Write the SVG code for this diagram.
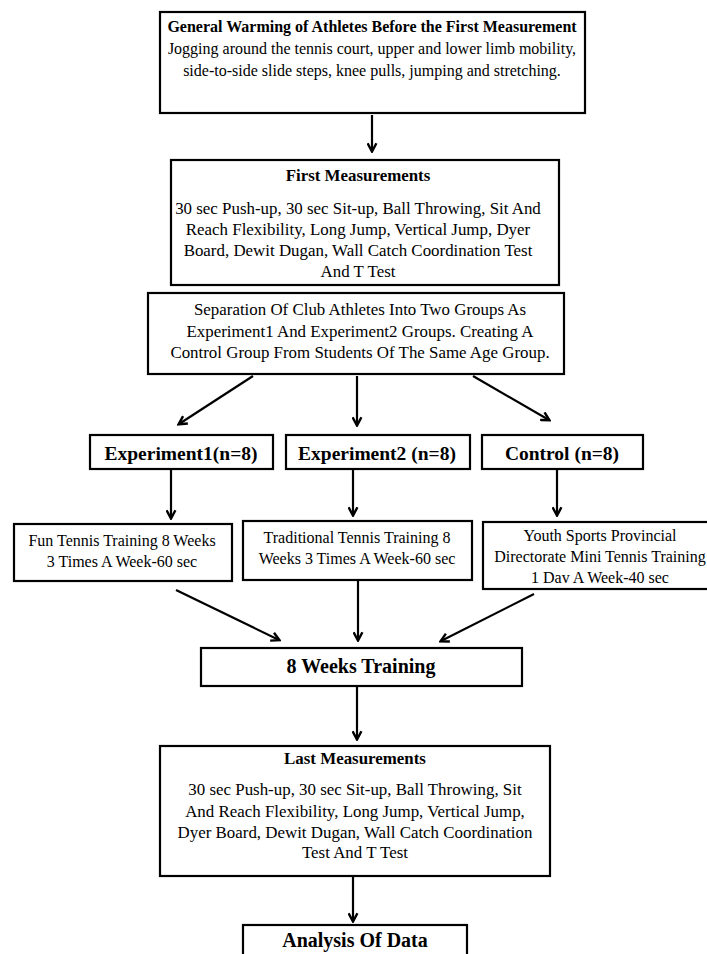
<svg xmlns="http://www.w3.org/2000/svg" width="707" height="954" viewBox="0 0 707 954">
<defs>
<style>
.box{fill:#fff;stroke:#000;stroke-width:2.2}
.t{font-family:"Liberation Serif","Times New Roman",serif;font-size:16.9px;fill:#000;text-anchor:middle}
.s{font-size:16px}
.b{font-weight:bold}
.g{font-family:"Liberation Serif","Times New Roman",serif;font-size:19.5px;font-weight:bold;fill:#000;text-anchor:middle}
.c{stroke:#000;stroke-width:2.2;fill:none;marker-end:url(#ah)}
</style>
<marker id="ah" viewBox="0 0 10 10" refX="8" refY="5" markerWidth="5" markerHeight="5" orient="auto" markerUnits="strokeWidth">
<path d="M1,1 L8.5,5 L1,9" fill="none" stroke="#000" stroke-width="2.2"/>
</marker>
</defs>
<rect width="707" height="954" fill="#fff"/>
<g id="n1">
<rect class="box" x="160" y="12" width="425" height="101"/>
<text class="t b s" x="372" y="32">General Warming of Athletes Before the First Measurement</text>
<text class="t s" x="372" y="54">Jogging around the tennis court, upper and lower limb mobility,</text>
<text class="t s" x="372" y="76">side-to-side slide steps, knee pulls, jumping and stretching.</text>
</g>
<g id="n2">
<rect class="box" x="171" y="160" width="388" height="125"/>
<text class="t b" x="358" y="181">First Measurements</text>
<text class="t" x="358" y="214">30 sec Push-up, 30 sec Sit-up, Ball Throwing, Sit And</text>
<text class="t" x="358" y="235">Reach Flexibility, Long Jump, Vertical Jump, Dyer</text>
<text class="t" x="358" y="256">Board, Dewit Dugan, Wall Catch Coordination Test</text>
<text class="t" x="358" y="277">And T Test</text>
</g>
<g id="n3">
<rect class="box" x="148" y="293" width="416" height="81"/>
<text class="t" x="360" y="315">Separation Of Club Athletes Into Two Groups As</text>
<text class="t" x="360" y="337">Experiment1  And Experiment2  Groups. Creating A</text>
<text class="t" x="360" y="358">Control Group From Students Of The Same Age Group.</text>
</g>
<g id="n4">
<rect class="box" x="90" y="435" width="183" height="34"/>
<text class="g" x="181" y="460">Experiment1(n=8)</text>
</g>
<g id="n5">
<rect class="box" x="286" y="435" width="184" height="34"/>
<text class="g" x="377" y="460">Experiment2 (n=8)</text>
</g>
<g id="n6">
<rect class="box" x="482" y="435" width="161" height="34"/>
<text class="g" x="562" y="460">Control (n=8)</text>
</g>
<g id="n7">
<rect class="box" x="14" y="524" width="218" height="57"/>
<text class="t s" x="122" y="546">Fun Tennis Training 8 Weeks</text>
<text class="t s" x="122" y="567">3 Times A Week-60 sec</text>
</g>
<g id="n8">
<rect class="box" x="243" y="521" width="229" height="59"/>
<text class="t s" x="357" y="543">Traditional Tennis Training 8</text>
<text class="t s" x="357" y="564">Weeks 3 Times A Week-60 sec</text>
</g>
<g id="n9">
<rect class="box" x="483" y="522" width="226" height="67"/>
<text class="t s" x="600" y="541">Youth Sports Provincial</text>
<text class="t s" x="600" y="562">Directorate Mini Tennis Training</text>
<text class="t s" x="600" y="583">1 Dav A Week-40 sec</text>
</g>
<g id="n10">
<rect class="box" x="201" y="648" width="321" height="38"/>
<text class="g" x="361" y="673" style="font-size:20px">8 Weeks Training</text>
</g>
<g id="n11">
<rect class="box" x="160" y="746" width="390" height="130"/>
<text class="t b" x="355" y="764">Last Measurements</text>
<text class="t" x="355" y="795">30 sec Push-up, 30 sec Sit-up, Ball Throwing, Sit</text>
<text class="t" x="355" y="817">And Reach Flexibility, Long Jump, Vertical Jump,</text>
<text class="t" x="355" y="838">Dyer Board, Dewit Dugan, Wall Catch Coordination</text>
<text class="t" x="355" y="858">Test And T Test</text>
</g>
<g id="n12">
<rect class="box" x="243" y="925" width="224" height="40"/>
<text class="g" x="355" y="947" style="font-size:20px">Analysis Of Data</text>
</g>
<g id="connectors">
<line class="c" x1="372" y1="115" x2="372" y2="151"/>
<line class="c" x1="253" y1="376" x2="179" y2="424"/>
<line class="c" x1="357" y1="376" x2="357" y2="425"/>
<line class="c" x1="473" y1="376" x2="549" y2="420"/>
<line class="c" x1="171" y1="470" x2="171" y2="518"/>
<line class="c" x1="353" y1="470" x2="353" y2="515"/>
<line class="c" x1="557" y1="470" x2="557" y2="515"/>
<line class="c" x1="176" y1="590" x2="279" y2="640"/>
<line class="c" x1="358" y1="581" x2="358" y2="640"/>
<line class="c" x1="534" y1="594" x2="441" y2="641"/>
<line class="c" x1="357" y1="687" x2="357" y2="739"/>
<line class="c" x1="353" y1="877" x2="353" y2="921"/>
</g>
</svg>
